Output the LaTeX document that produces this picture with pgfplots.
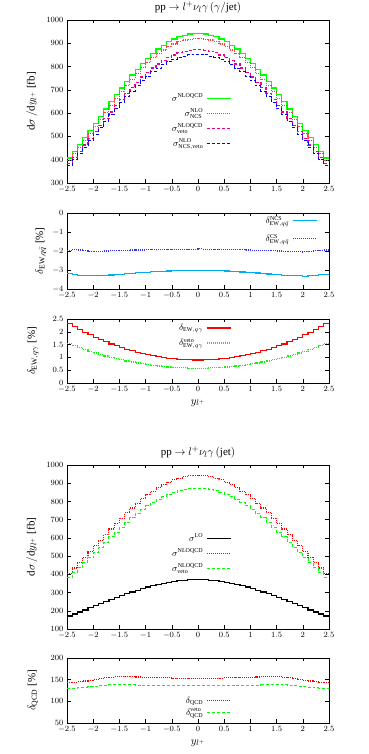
\documentclass[border=0pt]{standalone}
\usepackage{fontspec}
\setmainfont{Liberation Serif}
\usepackage{pgfplots}
\usepackage{pgfplotstable}
\pgfplotsset{compat=1.18}

% panel 1 and (nlo, veto) of panel 4: bin left edge, then value
\pgfplotstableread{
x    g   r   p   b
-2.5 407 398 383 376
-2.4 435 425 408 401
-2.3 464 453 435 427
-2.2 494 483 463 454
-2.1 524 512 490 481
-2.0 556 543 520 510
-1.9 587 573 548 537
-1.8 618 604 576 565
-1.7 649 634 605 593
-1.6 679 663 632 619
-1.5 708 692 659 645
-1.4 737 720 685 671
-1.3 764 746 710 695
-1.2 789 771 732 717
-1.1 814 795 755 739
-1.0 836 817 775 758
-0.9 857 837 794 777
-0.8 875 855 811 793
-0.7 892 871 826 808
-0.6 906 885 839 820
-0.5 918 897 850 831
-0.4 928 907 859 839
-0.3 935 914 865 845
-0.2 940 918 870 850
-0.1 943 921 872 853
0.0  943 921 872 853
0.1  940 918 870 850
0.2  935 914 865 845
0.3  928 907 859 839
0.4  918 897 850 831
0.5  906 885 839 820
0.6  892 871 826 808
0.7  875 855 811 793
0.8  857 837 794 777
0.9  836 817 775 758
1.0  814 795 755 739
1.1  789 771 732 717
1.2  764 746 710 695
1.3  737 720 685 671
1.4  708 692 659 645
1.5  679 663 632 619
1.6  649 634 605 593
1.7  618 604 576 565
1.8  587 573 548 537
1.9  556 543 520 510
2.0  524 512 490 481
2.1  494 483 463 454
2.2  464 453 435 427
2.3  435 425 408 401
2.4  407 398 383 376
2.5  407 398 383 376
}\datasigma

\pgfplotstableread{
x    ncs   cs
-2.5 -3.20 -1.97
-2.4 -3.24 -1.93
-2.3 -3.27 -1.95
-2.2 -3.29 -1.99
-2.1 -3.30 -2.02
-2.0 -3.30 -2.03
-1.9 -3.29 -2.02
-1.8 -3.28 -2.00
-1.7 -3.26 -1.99
-1.6 -3.24 -1.99
-1.5 -3.22 -1.98
-1.4 -3.20 -1.99
-1.3 -3.18 -1.95
-1.2 -3.15 -1.95
-1.1 -3.13 -1.95
-1.0 -3.12 -1.94
-0.9 -3.10 -1.94
-0.8 -3.08 -1.93
-0.7 -3.06 -1.92
-0.6 -3.05 -1.92
-0.5 -3.04 -1.91
-0.4 -3.03 -1.91
-0.3 -3.02 -1.91
-0.2 -3.02 -1.90
-0.1 -3.02 -1.90
0.0  -3.02 -1.89
0.1  -3.02 -1.90
0.2  -3.03 -1.91
0.3  -3.03 -1.91
0.4  -3.04 -1.92
0.5  -3.05 -1.92
0.6  -3.07 -1.93
0.7  -3.09 -1.93
0.8  -3.11 -1.94
0.9  -3.12 -1.95
1.0  -3.14 -1.96
1.1  -3.16 -1.96
1.2  -3.18 -1.97
1.3  -3.21 -1.98
1.4  -3.22 -1.99
1.5  -3.25 -2.00
1.6  -3.29 -2.03
1.7  -3.28 -2.01
1.8  -3.31 -2.02
1.9  -3.30 -2.03
2.0  -3.35 -2.04
2.1  -3.29 -2.01
2.2  -3.27 -1.99
2.3  -3.25 -1.97
2.4  -3.22 -1.95
2.5  -3.22 -1.95
}\dataew

\pgfplotstableread{
x    r     v
-2.5 2.323 1.533
-2.4 2.204 1.454
-2.3 2.090 1.378
-2.2 1.983 1.306
-2.1 1.881 1.238
-2.0 1.785 1.173
-1.9 1.694 1.112
-1.8 1.608 1.055
-1.7 1.527 1.001
-1.6 1.452 0.950
-1.5 1.382 0.903
-1.4 1.317 0.860
-1.3 1.257 0.819
-1.2 1.201 0.782
-1.1 1.151 0.748
-1.0 1.105 0.717
-0.9 1.064 0.690
-0.8 1.027 0.665
-0.7 0.996 0.644
-0.6 0.968 0.626
-0.5 0.946 0.611
-0.4 0.928 0.599
-0.3 0.914 0.589
-0.2 0.905 0.583
-0.1 0.900 0.580
0.0  0.900 0.580
0.1  0.905 0.583
0.2  0.914 0.589
0.3  0.928 0.599
0.4  0.946 0.611
0.5  0.968 0.626
0.6  0.996 0.644
0.7  1.027 0.665
0.8  1.064 0.690
0.9  1.105 0.717
1.0  1.151 0.748
1.1  1.201 0.782
1.2  1.257 0.819
1.3  1.317 0.860
1.4  1.382 0.903
1.5  1.452 0.950
1.6  1.527 1.001
1.7  1.608 1.055
1.8  1.694 1.112
1.9  1.785 1.173
2.0  1.881 1.238
2.1  1.983 1.306
2.2  2.090 1.378
2.3  2.204 1.454
2.4  2.323 1.533
2.5  2.323 1.533
}\dataqg

\pgfplotstableread{
x    lo  q     qv
-2.5 171 142.5 129.5
-2.4 182 144.0 130.5
-2.3 193 145.5 131.5
-2.2 204 147.0 132.5
-2.1 216 148.5 133.5
-2.0 227 150.5 134.6
-1.9 239 152.5 135.8
-1.8 250 154.5 137.0
-1.7 261 156.0 138.0
-1.6 272 157.0 138.5
-1.5 283 157.3 138.5
-1.4 293 157.2 138.3
-1.3 303 156.8 137.9
-1.2 313 156.2 137.5
-1.1 322 155.7 137.1
-1.0 330 155.3 136.8
-0.9 338 155.0 136.5
-0.8 345 154.6 136.3
-0.7 351 154.3 136.1
-0.6 357 154.0 135.9
-0.5 361 153.6 135.8
-0.4 365 153.3 135.7
-0.3 368 153.1 135.6
-0.2 370 153.0 135.5
-0.1 371 153.0 135.5
0.0  371 153.0 135.5
0.1  370 153.0 135.5
0.2  368 153.1 135.6
0.3  365 153.3 135.7
0.4  361 153.6 135.8
0.5  357 154.0 135.9
0.6  351 154.3 136.1
0.7  345 154.6 136.3
0.8  338 155.0 136.5
0.9  330 155.3 136.8
1.0  322 155.7 137.1
1.1  313 156.2 137.5
1.2  303 156.8 137.9
1.3  293 157.2 138.3
1.4  283 157.3 138.5
1.5  272 157.0 138.5
1.6  261 156.0 138.0
1.7  250 154.5 137.0
1.8  239 152.5 135.8
1.9  227 150.5 134.6
2.0  216 148.5 133.5
2.1  204 147.0 132.5
2.2  193 145.5 131.5
2.3  182 144.0 130.5
2.4  171 142.5 129.5
2.5  171 142.5 129.5
}\datajet

\pgfplotsset{
  panel/.style={
    scale only axis, width=262pt,
    xmin=-2.5, xmax=2.5,
    xtick={-2.5,-2,-1.5,-1,-0.5,0,0.5,1,1.5,2,2.5},
    /pgf/number format/1000 sep={},
    tick align=inside, major tick length=3.5pt,
    tick style={black, line width=0.4pt},
    axis line style={line width=0.5pt},
    ticklabel style={font=\fontsize{8}{9}\selectfont},
    label style={font=\fontsize{11}{13}\selectfont},
    title style={font=\fontsize{11}{13}\selectfont, yshift=-3pt},
    legend style={draw=none, fill=none, row sep=0pt, inner sep=0pt},
    legend cell align=right, legend plot pos=right,
    every axis plot/.append style={const plot},
  },
  % line sample first, then its text to the left of it
  leg/.style={legend image code/.code={
      \draw[##1] (0pt,0pt) -- (24pt,0pt);
      \path[draw=none, fill=none] (0pt,-7.5pt) rectangle (24pt,7.5pt);
      \node[overlay, anchor=east, inner sep=0pt, draw=none, text=black,
        font=\fontsize{9}{10}\selectfont] at (-3.5pt,0pt) {#1};}},
  solidl/.style={line width=1.2pt},
  dotl/.style={line width=1.1pt, dash pattern=on 1pt off 1pt},
  dashl/.style={line width=1pt, dash pattern=on 3pt off 2pt},
}

\begin{document}
\begin{tikzpicture}
\useasboundingbox (0,0) rectangle (368pt,754pt);

% panel 1
\begin{axis}[panel, at={(67pt,571pt)}, anchor=south west, height=163pt,
  ymin=300, ymax=1000, ytick={300,400,...,1000},
  title={pp $\to l^{+}\nu_{l}\gamma\,(\gamma/\mathrm{jet})$},
  ylabel={$\mathrm{d}\sigma\,/\mathrm{d}y_{l^{+}}$ [fb]},
  ylabel style={at={(axis description cs:-0.134,0.5)}, anchor=center},
  legend style={at={(0.63,0.567)}, anchor=north east}]
\addplot[solidl, draw=green, leg={$\sigma^{\mathrm{NLOQCD}}$}] table[x=x, y=g] {\datasigma};
\addlegendentry{\mbox{}}
\addplot[dotl, draw=red!75, leg={$\sigma^{\mathrm{NLO}}_{\mathrm{NCS}}$}] table[x=x, y=r] {\datasigma};
\addlegendentry{\mbox{}}
\addplot[line width=1.3pt, draw=magenta, dash pattern=on 3pt off 2pt,
  leg={$\sigma^{\mathrm{NLOQCD}}_{\mathrm{veto}}$}] table[x=x, y=p] {\datasigma};
\addlegendentry{\mbox{}}
\addplot[line width=0.9pt, draw=blue, dash pattern=on 3pt off 2pt,
  leg={$\sigma^{\mathrm{NLO}}_{\mathrm{NCS,veto}}$}] table[x=x, y=b] {\datasigma};
\addlegendentry{\mbox{}}
\end{axis}

% panel 2
\begin{axis}[panel, at={(67pt,465pt)}, anchor=south west, height=76pt,
  ymin=-4, ymax=0, ytick={-4,-3,-2,-1,0},
  ylabel={$\delta_{\mathrm{EW},q\bar{q}}$ [\%]},
  ylabel style={at={(axis description cs:-0.10,0.5)}, anchor=center},
  legend style={at={(0.958,1.0)}, anchor=north east, row sep=3pt}]
\addplot[solidl, draw=cyan, leg={$\delta^{\mathrm{NCS}}_{\mathrm{EW},q\bar{q}}$}] table[x=x, y=ncs] {\dataew};
\addlegendentry{\mbox{}}
\addplot[dotl, draw=blue!80, leg={$\delta^{\mathrm{CS}}_{\mathrm{EW},q\bar{q}}$}] table[x=x, y=cs] {\dataew};
\addlegendentry{\mbox{}}
\end{axis}

% panel 3
\begin{axis}[panel, at={(67pt,371pt)}, anchor=south west, height=64pt,
  ymin=0, ymax=2.5, ytick={0,0.5,1,1.5,2,2.5},
  xlabel={$y_{l^{+}}$},
  ylabel={$\delta_{\mathrm{EW},q\gamma}$ [\%]},
  ylabel style={at={(axis description cs:-0.13,0.5)}, anchor=center},
  legend style={at={(0.63,0.98)}, anchor=north east}]
\addplot[solidl, draw=red, leg={$\delta_{\mathrm{EW},q\gamma}$}] table[x=x, y=r] {\dataqg};
\addlegendentry{\mbox{}}
\addplot[dotl, draw=green, leg={$\delta^{\mathrm{veto}}_{\mathrm{EW},q\gamma}$}] table[x=x, y=v] {\dataqg};
\addlegendentry{\mbox{}}
\end{axis}

% panel 4
\begin{axis}[panel, at={(67pt,125pt)}, anchor=south west, height=164pt,
  ymin=100, ymax=1000, ytick={100,200,...,1000},
  title={pp $\to l^{+}\nu_{l}\gamma\,(\mathrm{jet})$},
  ylabel={$\mathrm{d}\sigma\,/\mathrm{d}y_{l^{+}}$ [fb]},
  ylabel style={at={(axis description cs:-0.134,0.5)}, anchor=center},
  legend style={at={(0.63,0.6)}, anchor=north east}]
\addplot[solidl, draw=black, leg={$\sigma^{\mathrm{LO}}$}] table[x=x, y=lo] {\datajet};
\addlegendentry{\mbox{}}
\addplot[dotl, draw=red, leg={$\sigma^{\mathrm{NLOQCD}}$}] table[x=x, y=g] {\datasigma};
\addlegendentry{\mbox{}}
\addplot[dashl, draw=green, leg={$\sigma^{\mathrm{NLOQCD}}_{\mathrm{veto}}$}] table[x=x, y=p] {\datasigma};
\addlegendentry{\mbox{}}
\end{axis}

% panel 5
\begin{axis}[panel, at={(67pt,31pt)}, anchor=south west, height=65pt,
  ymin=50, ymax=200, ytick={50,100,150,200},
  xlabel={$y_{l^{+}}$},
  ylabel={$\delta_{\mathrm{QCD}}$ [\%]},
  ylabel style={at={(axis description cs:-0.13,0.5)}, anchor=center},
  legend style={at={(0.63,0.46)}, anchor=north east, row sep=-3pt}]
\addplot[dotl, draw=red, leg={$\delta_{\mathrm{QCD}}$}] table[x=x, y=q] {\datajet};
\addlegendentry{\mbox{}}
\addplot[dashl, draw=green, leg={$\delta^{\mathrm{veto}}_{\mathrm{QCD}}$}] table[x=x, y=qv] {\datajet};
\addlegendentry{\mbox{}}
\end{axis}
\end{tikzpicture}
\end{document}
